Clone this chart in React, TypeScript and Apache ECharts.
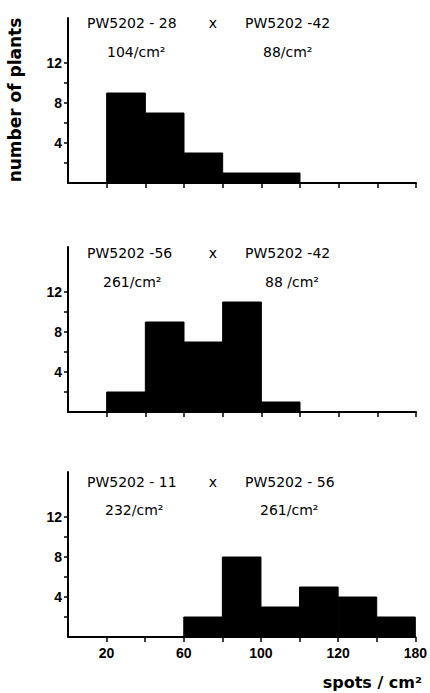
import React, { useEffect, useRef } from "react";
import * as echarts from "echarts";

const binStarts = [0, 20, 40, 60, 80, 100, 120, 140, 160];
const binWidth = 20;
const panel1Counts = [0, 9, 7, 3, 1, 1, 0, 0, 0];
const panel2Counts = [0, 2, 9, 7, 11, 1, 0, 0, 0];
const panel3Counts = [0, 0, 0, 2, 8, 3, 5, 4, 2];

const yTickValues = [2, 4, 6, 8, 10, 12];
const yLabelValues = [4, 8, 12];
const xTickValues = [20, 40, 60, 80, 100, 120, 140, 160, 180];
const xLabelValues = [20, 60, 100, 140, 180];
const xLabelTexts = ["20", "60", "100", "120", "180"];

const panelTitlesLeft = ["PW5202 - 28", "PW5202 -56", "PW5202 - 11"];
const panelTitlesRight = ["PW5202 -42", "PW5202 -42", "PW5202 - 56"];
const panelDensLeft = ["104/cm²", "261/cm²", "232/cm²"];
const panelDensRight = ["88/cm²", "88 /cm²", "261/cm²"];

const yAxisTitle = "number of plants";
const xAxisTitle = "spots / cm²";

const gridTops = [18, 247, 472];
const GRID_H = 165;

export default function App() {
  const ref = useRef<HTMLDivElement>(null);
  useEffect(() => {
    document.body.style.margin = "0";
    if (!ref.current) return;
    const chart = echarts.init(ref.current, null, { renderer: "svg" });
    const counts = [panel1Counts, panel2Counts, panel3Counts];

    const grids = gridTops.map((t) => ({ left: 68, right: 14, top: t, height: GRID_H }));
    const xAxes = gridTops.map((_, i) => ({
      type: "value",
      gridIndex: i,
      min: 0,
      max: 180,
      interval: 20,
      splitLine: { show: false },
      axisLine: { show: true, onZero: false, lineStyle: { color: "#000", width: 2 } },
      axisTick: { show: true, length: 5, customValues: xTickValues, lineStyle: { color: "#000", width: 1.5 } },
      axisLabel: {
        show: i === 2,
        customValues: xLabelValues,
        formatter: (v: number) => {
          const k = xLabelValues.indexOf(v);
          return k >= 0 ? xLabelTexts[k] : "";
        },
        color: "#000",
        fontFamily: "Liberation Sans",
        fontWeight: "bold",
        fontSize: 14,
        margin: 9,
      },
    }));
    const yAxes = gridTops.map((_, i) => ({
      type: "value",
      gridIndex: i,
      min: 0,
      max: 16.5,
      splitLine: { show: false },
      axisLine: { show: true, onZero: false, lineStyle: { color: "#000", width: 2 } },
      axisTick: { show: true, length: 4, customValues: yTickValues, lineStyle: { color: "#000", width: 1.5 } },
      axisLabel: {
        show: true,
        customValues: yLabelValues,
        color: "#000",
        fontFamily: "Liberation Sans",
        fontWeight: "bold",
        fontSize: 14,
        margin: 6,
      },
    }));

    const series = counts.map((c, i) => ({
      type: "custom",
      xAxisIndex: i,
      yAxisIndex: i,
      encode: { x: [0, 1], y: 2 },
      data: binStarts.map((s, k) => [s, s + binWidth, c[k]]),
      renderItem: (params: any, api: any) => {
        const x0 = api.value(0);
        const x1 = api.value(1);
        const y = api.value(2);
        if (!y) return null;
        const p0 = api.coord([x0, y]);
        const p1 = api.coord([x1, 0]);
        return {
          type: "rect",
          shape: { x: p0[0], y: p0[1], width: p1[0] - p0[0], height: p1[1] - p0[1] },
          style: { fill: "#000", stroke: "#000", lineWidth: 1 },
        };
      },
    }));

    const annFont = { fontFamily: "DejaVu Sans", fontSize: 14, fill: "#000" };
    const line1Y = [23, 253, 482];
    const line2Y = [52, 282, 510];
    const dLeftX = [107, 103, 105];
    const dRightX = [263, 265, 260];
    const graphics: any[] = [];
    for (let i = 0; i < 3; i++) {
      graphics.push(
        { type: "text", x: 87, y: line1Y[i], style: { ...annFont, text: panelTitlesLeft[i], textVerticalAlign: "middle" } },
        { type: "text", x: 213, y: line1Y[i], style: { ...annFont, text: "x", textAlign: "center", textVerticalAlign: "middle" } },
        { type: "text", x: 245, y: line1Y[i], style: { ...annFont, text: panelTitlesRight[i], textVerticalAlign: "middle" } },
        { type: "text", x: dLeftX[i], y: line2Y[i], style: { ...annFont, text: panelDensLeft[i], textVerticalAlign: "middle" } },
        { type: "text", x: dRightX[i], y: line2Y[i], style: { ...annFont, text: panelDensRight[i], textVerticalAlign: "middle" } }
      );
    }
    graphics.push(
      {
        type: "text",
        x: 15,
        y: 100,
        rotation: Math.PI / 2,
        style: {
          text: yAxisTitle,
          fontFamily: "DejaVu Sans",
          fontWeight: "bold",
          fontSize: 17,
          fill: "#000",
          textAlign: "center",
          textVerticalAlign: "middle",
        },
      },
      {
        type: "text",
        x: 422,
        y: 682,
        style: {
          text: xAxisTitle,
          fontFamily: "DejaVu Sans",
          fontWeight: "bold",
          fontSize: 16,
          fill: "#000",
          textAlign: "right",
          textVerticalAlign: "middle",
        },
      }
    );

    chart.setOption({
      animation: false,
      backgroundColor: "#fff",
      grid: grids,
      xAxis: xAxes,
      yAxis: yAxes,
      series,
      graphic: graphics,
    });
    return () => chart.dispose();
  }, []);
  return <div ref={ref} style={{ width: 430, height: 693 }} />;
}
